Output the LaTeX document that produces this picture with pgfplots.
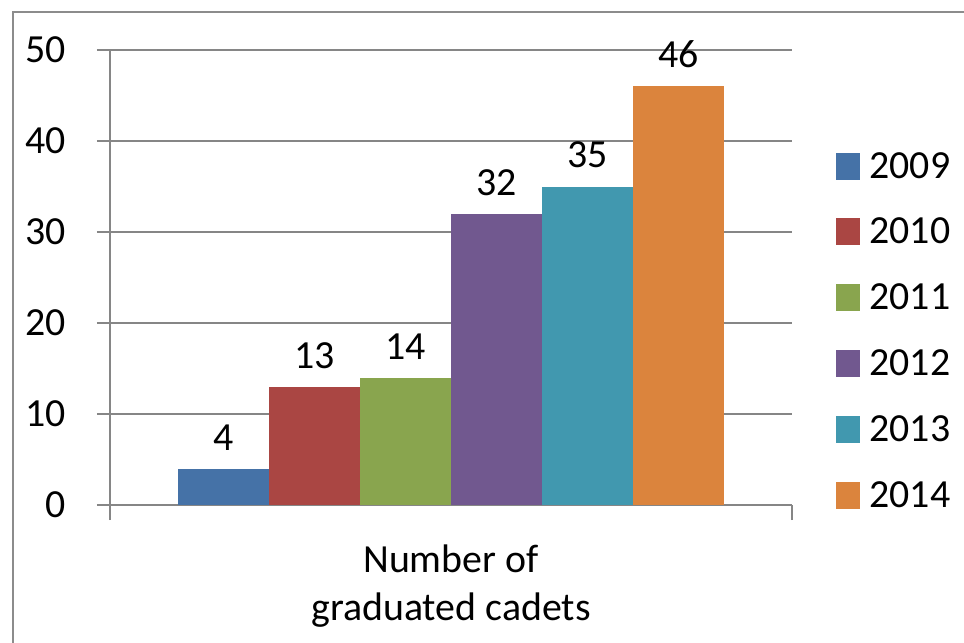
\documentclass[border=0pt]{standalone}
\usepackage{pgfplots}
\pgfplotsset{compat=1.18}
\usepackage{fontspec}
\setmainfont{Carlito}
\definecolor{c1}{HTML}{4572A7}
\definecolor{c2}{HTML}{AA4643}
\definecolor{c3}{HTML}{89A54E}
\definecolor{c4}{HTML}{71588F}
\definecolor{c5}{HTML}{4198AF}
\definecolor{c6}{HTML}{DB843D}
\definecolor{gridgray}{HTML}{868686}
\definecolor{framegray}{HTML}{8C8C8C}
\newcommand{\ff}{\fontsize{20}{24}\selectfont}
\begin{document}
\begin{tikzpicture}
\useasboundingbox (-55bp,-69bp) rectangle (427bp,252.5bp);
\draw[color=framegray, line width=0.8bp] (-48.5bp,-80bp) -- (-48.5bp,246.5bp) -- (440bp,246.5bp);
\begin{axis}[
 at={(0,0)}, anchor=south west,
 width=341bp, height=227.5bp, scale only axis,
 xmin=-1, xmax=1, ymin=0, ymax=50,
 ytick={0,10,20,30,40,50},
 xtick={-1,1}, xticklabels={},
 axis x line*=bottom, axis y line*=left,
 ybar=0pt, bar width=45.5bp,
 ymajorgrids, grid style={gridgray, line width=0.8bp},
 axis line style={gridgray, line width=0.8bp, -},
 tick style={gridgray, line width=0.8bp},
 tick align=outside,
 major tick length=6.5bp,
 xtick style={/pgfplots/major tick length=7.5bp},
 /pgf/number format/assume math mode=true,
 yticklabel style={font=\ff, inner sep=0pt, xshift=-15.5bp},
 nodes near coords, nodes near coords style={font=\ff, anchor=south, inner sep=0pt, yshift=9bp, text=black},
 legend style={at={(1.0645,0.382)}, anchor=west, draw=none, fill=none, font=\ff, row sep=15.5bp, inner sep=0pt, nodes={inner sep=1.5bp}},
 legend cell align=left,
 legend image code/.code={\fill[#1] (0bp,-6.5bp) rectangle (12bp,7bp);},
 xlabel={Number of\\graduated cadets},
 xlabel style={align=center, font=\ff, at={(axis description cs:0.5,0)}, anchor=north, yshift=-16.5bp},
]
\addplot[fill=c1, draw=none] coordinates {(0,4)};
\addplot[fill=c2, draw=none] coordinates {(0,13)};
\addplot[fill=c3, draw=none] coordinates {(0,14)};
\addplot[fill=c4, draw=none] coordinates {(0,32)};
\addplot[fill=c5, draw=none] coordinates {(0,35)};
\addplot[fill=c6, draw=none] coordinates {(0,46)};
\legend{\hspace{3bp}2009,\hspace{3bp}2010,\hspace{3bp}2011,\hspace{3bp}2012,\hspace{3bp}2013,\hspace{3bp}2014}
\end{axis}
\end{tikzpicture}
\end{document}
